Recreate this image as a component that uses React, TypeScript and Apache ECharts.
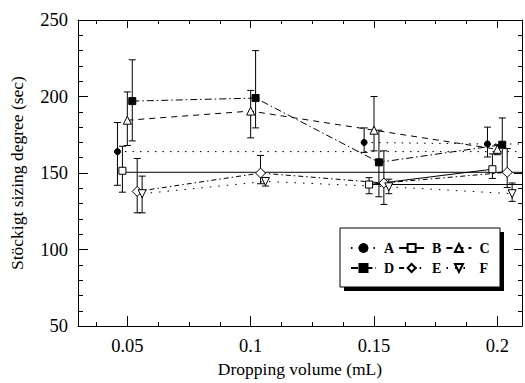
import React, { useEffect, useRef } from "react";
import * as echarts from "echarts";

// ---- data ----
const seriesNames = ["A", "B", "C", "D", "E", "F"];
const xA = [0.046, 0.096, 0.146, 0.196];
const xB = [0.048, 0.098, 0.148, 0.198];
const xC = [0.05, 0.1, 0.15, 0.2];
const xD = [0.052, 0.102, 0.152, 0.202];
const xE = [0.054, 0.104, 0.154, 0.204];
const xF = [0.056, 0.106, 0.156, 0.206];

const yA = [164, null, 170, 169];
const yB = [151.5, null, 142.5, 152.5];
const yC = [184.5, 190.5, 178, 165.5];
const yD = [197, 199, 157, 168.5];
const yE = [138, 150, 143.5, 150.5];
const yF = [136.5, 144.5, 141, 136.5];

const loA = [142, null, 163.5, 160.5];
const hiA = [183, null, 179.5, 180];
const loB = [137.5, null, 136.5, 146.5];
const hiB = [167.5, null, 147, 162.5];
const loC = [168, 173, 164.5, 162];
const hiC = [203, 204, 200, 168.5];
const loD = [171, 179.5, 134.5, 150.5];
const hiD = [224, 230, 178, 186];
const loE = [124, 143, 129.5, 140.5];
const hiE = [159.5, 161.5, 164.5, 166];
const loF = [124, 141.5, 136.5, 131.5];
const hiF = [148, 147, 146, 143.5];

// horizontal guide lines seen in the plot
const refOf = ["A", "A", "B", "B"];
const refX0 = [0.046, 0.196, 0.048, 0.148];
const refX1 = [0.21, 0.21, 0.21, 0.21];
const refY = [164, 169, 150.5, 142.5];

const xMajorTicks = [0.05, 0.1, 0.15, 0.2];
const xMinorTicks = [0.0375, 0.0625, 0.075, 0.0875, 0.1125, 0.125, 0.1375, 0.1625, 0.175, 0.1875];

const FONT = "'Liberation Serif', 'Times New Roman', serif";

const xs = [xA, xB, xC, xD, xE, xF];
const ys = [yA, yB, yC, yD, yE, yF];
const los = [loA, loB, loC, loD, loE, loF];
const his = [hiA, hiB, hiC, hiD, hiE, hiF];

const lineTypes: any[] = [
  [1.5, 6],
  "solid",
  [6, 5],
  [7, 3, 1.5, 3],
  [5, 3, 1.5, 3],
  [1.5, 7],
];
const symbols = ["circle", "rect", "triangle", "rect", "diamond", "triangle"];
const symbolSizes = [6, 7, 8, 7, 10, 8];
const filled = [true, false, false, true, false, false];
const rotations = [0, 0, 0, 0, 0, 180];

export default function App() {
  const ref = useRef<HTMLDivElement>(null);
  useEffect(() => {
    if (!ref.current) return;
    const chart = echarts.init(ref.current, null, { renderer: "svg" });

    const series: any[] = [];
    seriesNames.forEach((name, i) => {
      const errData: any[] = [];
      xs[i].forEach((x, j) => {
        if (los[i][j] != null && his[i][j] != null) errData.push([x, los[i][j], his[i][j]]);
      });
      series.push({
        type: "custom",
        name: name + "-err",
        xAxisIndex: 0,
        yAxisIndex: 0,
        z: 1,
        silent: true,
        data: errData,
        renderItem: (params: any, api: any) => {
          const x = api.value(0);
          const top = api.coord([x, api.value(2)]);
          const bot = api.coord([x, api.value(1)]);
          const w = 3.5;
          const st = { stroke: "#000", lineWidth: 1 };
          return {
            type: "group",
            children: [
              { type: "line", shape: { x1: top[0], y1: top[1], x2: bot[0], y2: bot[1] }, style: st },
              { type: "line", shape: { x1: top[0] - w, y1: top[1], x2: top[0] + w, y2: top[1] }, style: st },
              { type: "line", shape: { x1: bot[0] - w, y1: bot[1], x2: bot[0] + w, y2: bot[1] }, style: st },
            ],
          };
        },
      });
    });

    refOf.forEach((name, k) => {
      const i = seriesNames.indexOf(name);
      series.push({
        type: "line",
        name: name + "-ref" + k,
        z: 2,
        silent: true,
        symbol: "none",
        lineStyle: { color: "#000", width: 1, type: lineTypes[i] },
        data: [
          [refX0[k], refY[k]],
          [refX1[k], refY[k]],
        ],
      });
    });

    seriesNames.forEach((name, i) => {
      series.push({
        type: "line",
        name,
        z: 3,
        symbol: symbols[i],
        symbolSize: symbolSizes[i],
        symbolRotate: rotations[i],
        showAllSymbol: true,
        lineStyle: { color: "#000", width: 1, type: lineTypes[i] },
        itemStyle: {
          color: filled[i] ? "#000" : "#fff",
          borderColor: "#000",
          borderWidth: 1,
        },
        data: xs[i].map((x, j) => [x, ys[i][j] == null ? "-" : ys[i][j]]),
      });
    });

    const baseX = { type: "value", min: 0.03, max: 0.21, gridIndex: 0, splitLine: { show: false } };
    const option: any = {
      animation: false,
      backgroundColor: "#fff",
      grid: { left: 78, top: 20, right: 3, bottom: 51, containLabel: false },
      xAxis: [
        {
          ...baseX,
          position: "bottom",
          name: "Dropping volume (mL)",
          nameLocation: "middle",
          nameGap: 33,
          nameTextStyle: { fontFamily: FONT, fontSize: 17.5, color: "#000" },
          axisLine: { show: true, lineStyle: { color: "#000", width: 1 } },
          axisTick: { show: true, inside: true, length: 10, customValues: xMajorTicks, lineStyle: { color: "#000" } },
          axisLabel: {
            show: true,
            customValues: xMajorTicks,
            margin: 10,
            fontFamily: FONT,
            fontSize: 18.5,
            color: "#000",
            formatter: (v: number) => String(v),
          },
        },
        {
          ...baseX,
          position: "bottom",
          axisLine: { show: false },
          axisTick: { show: true, inside: true, length: 4, customValues: xMinorTicks, lineStyle: { color: "#000" } },
          axisLabel: { show: false },
        },
        {
          ...baseX,
          position: "top",
          axisLine: { show: true, lineStyle: { color: "#000", width: 1 } },
          axisTick: { show: true, inside: true, length: 8, customValues: xMajorTicks, lineStyle: { color: "#000" } },
          axisLabel: { show: false },
        },
        {
          ...baseX,
          position: "top",
          axisLine: { show: false },
          axisTick: { show: true, inside: true, length: 4, customValues: xMinorTicks, lineStyle: { color: "#000" } },
          axisLabel: { show: false },
        },
      ],
      yAxis: [
        {
          type: "value",
          position: "left",
          min: 50,
          max: 250,
          interval: 50,
          name: "Stöckigt sizing degree (sec)",
          nameLocation: "middle",
          nameGap: 52,
          nameTextStyle: { fontFamily: FONT, fontSize: 17.5, color: "#000" },
          splitLine: { show: false },
          axisLine: { show: true, lineStyle: { color: "#000", width: 1 } },
          axisTick: { show: true, inside: true, length: 10, lineStyle: { color: "#000" } },
          minorTick: { show: true, splitNumber: 5, length: 5, lineStyle: { color: "#000" } },
          axisLabel: { margin: 10, fontFamily: FONT, fontSize: 18.5, color: "#000" },
        },
        {
          type: "value",
          position: "right",
          min: 50,
          max: 250,
          interval: 50,
          splitLine: { show: false },
          axisLine: { show: true, lineStyle: { color: "#000", width: 1 } },
          axisTick: { show: true, inside: true, length: 8, lineStyle: { color: "#000" } },
          minorTick: { show: true, splitNumber: 5, length: 4, lineStyle: { color: "#000" } },
          axisLabel: { show: false },
        },
      ],
      legend: {
        data: seriesNames,
        left: 350,
        top: 240,
        width: 142,
        orient: "horizontal",
        itemWidth: 25,
        itemHeight: 10,
        itemGap: 4,
        padding: 0,
        selectedMode: false,
        z: 20,
        textStyle: {
          fontFamily: FONT,
          fontWeight: "bold",
          fontSize: 14,
          color: "#000",
          padding: [0, 0, 0, 3],
          lineHeight: 16,
        },
      },
      graphic: [
        { type: "rect", z: 10, shape: { x: 344, y: 232, width: 160, height: 59 }, style: { fill: "#000" } },
        {
          type: "rect",
          z: 11,
          shape: { x: 340, y: 228, width: 160, height: 59 },
          style: { fill: "#fff", stroke: "#000", lineWidth: 1 },
        },
      ],
      series,
    };
    chart.setOption(option);
    return () => chart.dispose();
  }, []);
  return (
    <div
      ref={ref}
      style={{ position: "fixed", left: 0, top: 0, width: 525, height: 383, background: "#fff" }}
    />
  );
}
